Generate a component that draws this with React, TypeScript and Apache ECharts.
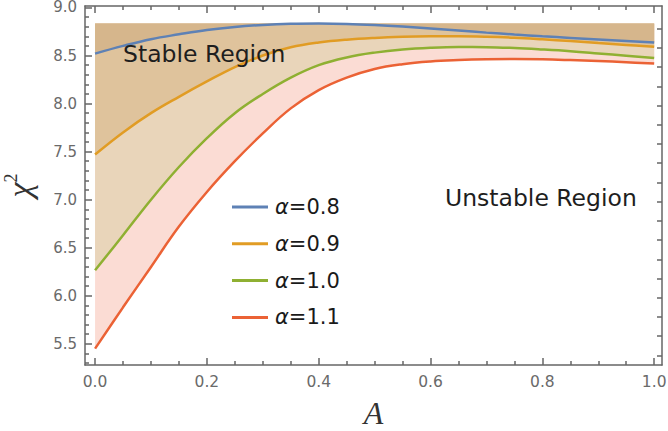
import React, { useEffect, useRef } from 'react';
import * as echarts from 'echarts';

// ---- data ----
const A_VALUES = [0, 0.05, 0.1, 0.15, 0.2, 0.25, 0.3, 0.35, 0.4, 0.45, 0.5, 0.55, 0.6, 0.65, 0.7, 0.75, 0.8, 0.85, 0.9, 0.95, 1.0];
const CHI_A08 = [8.52, 8.6, 8.67, 8.72, 8.765, 8.797, 8.818, 8.83, 8.833, 8.829, 8.818, 8.802, 8.782, 8.76, 8.738, 8.718, 8.7, 8.683, 8.667, 8.651, 8.635];
const CHI_A09 = [7.47, 7.7, 7.9, 8.07, 8.23, 8.38, 8.5, 8.585, 8.635, 8.665, 8.683, 8.694, 8.699, 8.7, 8.695, 8.684, 8.668, 8.65, 8.63, 8.61, 8.59];
const CHI_A10 = [6.265, 6.63, 7.0, 7.34, 7.64, 7.9, 8.1, 8.27, 8.4, 8.48, 8.53, 8.562, 8.58, 8.588, 8.587, 8.578, 8.563, 8.545, 8.522, 8.498, 8.475];
const CHI_A11 = [5.45, 5.88, 6.3, 6.72, 7.08, 7.4, 7.69, 7.95, 8.14, 8.27, 8.36, 8.41, 8.438, 8.452, 8.46, 8.463, 8.46, 8.452, 8.442, 8.43, 8.416];
const SERIES_NAMES = ['α=0.8', 'α=0.9', 'α=1.0', 'α=1.1'];

const X_MAJOR = [0, 0.2, 0.4, 0.6, 0.8, 1.0];
const X_MINOR = [0.05, 0.1, 0.15, 0.25, 0.3, 0.35, 0.45, 0.5, 0.55, 0.65, 0.7, 0.75, 0.85, 0.9, 0.95];
const Y_MAJOR = [5.5, 6.0, 6.5, 7.0, 7.5, 8.0, 8.5, 9.0];
const Y_MINOR = [5.3, 5.4, 5.6, 5.7, 5.8, 5.9, 6.1, 6.2, 6.3, 6.4, 6.6, 6.7, 6.8, 6.9, 7.1, 7.2, 7.3, 7.4, 7.6, 7.7, 7.8, 7.9, 8.1, 8.2, 8.3, 8.4, 8.6, 8.7, 8.8, 8.9];
const Y_RIGHT = [5.38, 5.58, 5.78, 5.98, 6.18, 6.38, 6.58, 6.78, 6.98, 7.18, 7.38, 7.58, 7.78, 7.98, 8.18, 8.38, 8.58, 8.78];

// ---- styles ----
const COLORS = ['#5e81b5', '#e19c24', '#8fb032', '#eb6235'];
// fill colour above each curve (opaque, drawn red first, blue last)
const FILL_COLORS = ['#d6b68c', '#dfc39c', '#e9d5ba', '#fbdcd4'];
const FRAME = '#666666';
const SM = 0.4;
const SANS = '"DejaVu Sans", sans-serif';
const SERIF = '"Liberation Serif", serif';

const X_MIN = -0.018;
const X_MAX = 1.014;
const Y_MIN = 5.28;
const Y_MAX = 9.015;

function buildOption(): any {
  const curves = [CHI_A08, CHI_A09, CHI_A10, CHI_A11];
  const top = Math.max(...CHI_A08);
  const pts = (ys: number[]) => A_VALUES.map((x, i) => [x, ys[i]]);

  // areas: from each curve up to the top value; drawn red, green, orange, blue
  const areas = [3, 2, 1, 0].map((i) => ({
    type: 'line',
    data: pts(curves[i]),
    smooth: SM,
    symbol: 'none',
    silent: true,
    z: 1,
    xAxisIndex: 0,
    yAxisIndex: 0,
    lineStyle: { width: 0, opacity: 0 },
    areaStyle: { color: FILL_COLORS[i], opacity: 1, origin: top },
  }));
  const lines = curves.map((c, i) => ({
    type: 'line',
    name: SERIES_NAMES[i],
    data: pts(c),
    smooth: SM,
    symbol: 'none',
    z: 3,
    xAxisIndex: 0,
    yAxisIndex: 0,
    lineStyle: { width: 2.5, color: COLORS[i] },
    itemStyle: { color: COLORS[i] },
  }));

  const axisLineStyle = { color: FRAME, width: 1.5 };
  const xCommon = { type: 'value', min: X_MIN, max: X_MAX, splitLine: { show: false } };
  const yCommon = { type: 'value', min: Y_MIN, max: Y_MAX, splitLine: { show: false } };

  return {
    animation: false,
    grid: { left: 85, right: 6, top: 6, bottom: 66, containLabel: false, outerBoundsMode: 'none' },
    legend: {
      data: SERIES_NAMES,
      orient: 'vertical',
      left: 227,
      top: 190,
      itemWidth: 36,
      itemHeight: 3,
      itemGap: 12.8,
      icon: 'rect',
      formatter: (n: string) => n.replace('α', '{g|α}'),
      textStyle: {
        fontFamily: SANS,
        fontSize: 21,
        lineHeight: 24,
        color: '#1a1a1a',
        padding: [0, 0, 0, 2],
        rich: { g: { fontFamily: SANS, fontStyle: 'italic', fontSize: 21, color: '#1a1a1a' } },
      },
    },
    xAxis: [
      {
        ...xCommon,
        position: 'bottom',
        axisLine: { show: true, onZero: false, lineStyle: axisLineStyle },
        axisTick: { show: true, inside: true, length: 7, customValues: X_MAJOR, lineStyle: axisLineStyle },
        axisLabel: { show: true, customValues: X_MAJOR, formatter: (v: number) => v.toFixed(1), margin: 9, fontFamily: SANS, fontSize: 15.5, color: '#6a6a6a' },
        name: 'A',
        nameLocation: 'middle',
        nameGap: 32,
        nameTextStyle: { fontFamily: SERIF, fontStyle: 'italic', fontSize: 32, color: '#333' },
      },
      {
        ...xCommon,
        position: 'bottom',
        axisLine: { show: false, onZero: false },
        axisTick: { show: true, inside: true, length: 4, customValues: X_MINOR, lineStyle: axisLineStyle },
        axisLabel: { show: false },
      },
      {
        ...xCommon,
        position: 'top',
        axisLine: { show: true, onZero: false, lineStyle: axisLineStyle },
        axisTick: { show: true, inside: true, length: 7, customValues: X_MAJOR, lineStyle: axisLineStyle },
        axisLabel: { show: false },
      },
      {
        ...xCommon,
        position: 'top',
        axisLine: { show: false, onZero: false },
        axisTick: { show: true, inside: true, length: 4, customValues: X_MINOR, lineStyle: axisLineStyle },
        axisLabel: { show: false },
      },
    ],
    yAxis: [
      {
        ...yCommon,
        position: 'left',
        axisLine: { show: true, onZero: false, lineStyle: axisLineStyle },
        axisTick: { show: true, inside: true, length: 7, customValues: Y_MAJOR, lineStyle: axisLineStyle },
        axisLabel: { show: true, customValues: Y_MAJOR, formatter: (v: number) => v.toFixed(1), margin: 8, fontFamily: SANS, fontSize: 15, lineHeight: 12, color: '#6a6a6a' },
        name: '{x|χ}{s|2}',
        nameLocation: 'middle',
        nameGap: 49,
        nameRotate: 90,
        nameTextStyle: {
          rich: {
            x: { fontFamily: SERIF, fontStyle: 'italic', fontSize: 34, color: '#333' },
            s: { fontFamily: SERIF, fontSize: 18, color: '#333', verticalAlign: 'top' },
          },
        },
      },
      {
        ...yCommon,
        position: 'left',
        axisLine: { show: false, onZero: false },
        axisTick: { show: true, inside: true, length: 4, customValues: Y_MINOR, lineStyle: axisLineStyle },
        axisLabel: { show: false },
      },
      {
        ...yCommon,
        position: 'right',
        axisLine: { show: true, onZero: false, lineStyle: axisLineStyle },
        axisTick: { show: true, inside: true, length: 5, customValues: Y_RIGHT, lineStyle: axisLineStyle },
        axisLabel: { show: false },
      },
    ],
    graphic: [
      {
        type: 'text',
        x: 123,
        y: 54,
        z: 10,
        style: { text: 'Stable Region', fontFamily: SANS, fontSize: 23.5, fill: '#1e1e1e', align: 'left', verticalAlign: 'middle' },
      },
      {
        type: 'text',
        x: 445,
        y: 198,
        z: 10,
        style: { text: 'Unstable Region', fontFamily: SANS, fontSize: 23.5, fill: '#1e1e1e', align: 'left', verticalAlign: 'middle' },
      },
    ],
    series: [...areas, ...lines],
  };
}

export default function App() {
  const ref = useRef<HTMLDivElement>(null);
  useEffect(() => {
    if (!ref.current) return;
    const chart = echarts.init(ref.current, null, { renderer: 'svg' });
    chart.setOption(buildOption());
    return () => chart.dispose();
  }, []);
  return <div ref={ref} style={{ position: 'absolute', left: 0, top: 0, width: 668, height: 431, background: '#fff' }} />;
}
